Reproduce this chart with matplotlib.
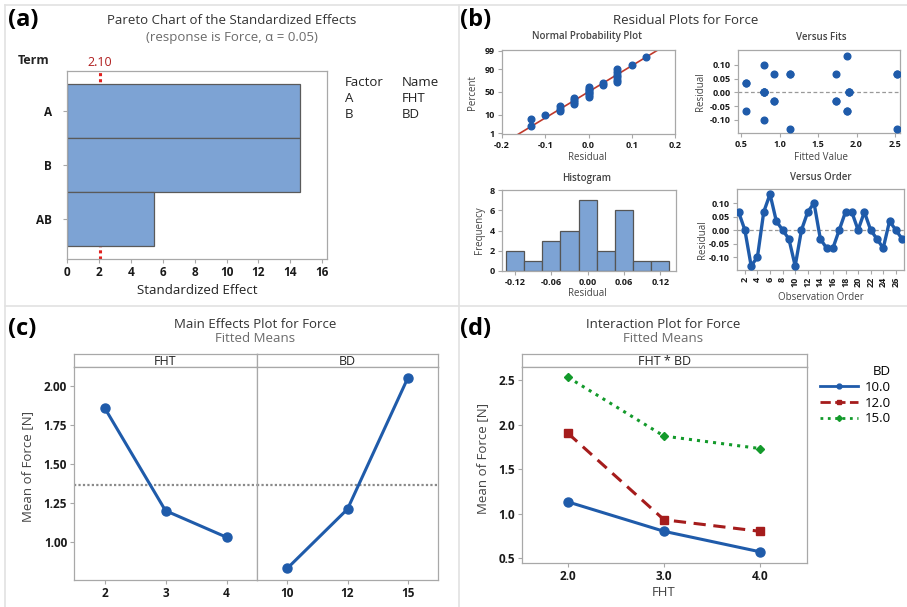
import matplotlib
matplotlib.use("Agg")
import matplotlib.pyplot as plt
from matplotlib.lines import Line2D
from statistics import NormalDist
import numpy as np

plt.rcParams['font.family'] = ['Open Sans', 'DejaVu Sans']

W, H = 907, 607

# (a) pareto data
terms = ["A", "B", "AB"]
std_effects = [14.6, 14.6, 5.45]
t_crit = 2.10
factor_codes = ["A", "B"]
factor_names = ["FHT", "BD"]

# (b) residuals in observation order, and their fitted values
residuals = [0.067, 0.0, -0.133, -0.10, 0.067, 0.133, 0.033, 0.0, -0.033, -0.133,
             0.0, 0.067, 0.10, -0.033, -0.067, -0.067, 0.0, 0.067, 0.067, 0.0,
             0.067, 0.0, -0.033, -0.067, 0.033, 0.0, -0.033]
fitted = [0.93, 0.80, 1.13, 0.80, 1.13, 1.87, 0.57, 0.80, 0.93, 2.53,
          0.80, 1.13, 0.80, 0.93, 0.57, 1.87, 0.80, 1.73, 2.53, 1.90,
          2.53, 1.90, 1.73, 1.87, 0.57, 1.90, 1.73]

# (c) main effects
fht_levels = ["2", "3", "4"]
fht_means = [1.86, 1.20, 1.03]
bd_levels = ["10", "12", "15"]
bd_means = [0.83, 1.21, 2.05]
grand_mean = 1.363

# (d) interaction
fht_vals = [2.0, 3.0, 4.0]
bd10 = [1.13, 0.80, 0.57]
bd12 = [1.90, 0.93, 0.80]
bd15 = [2.53, 1.87, 1.73]

blue = "#1F5BAA"
bar_blue = "#7DA3D4"
dark_red = "#A51C1C"
green = "#139A2B"
spine_c = "#A8A8A8"

fig = plt.figure(figsize=(W / 100, H / 100), dpi=100)


def ax_px(x0, y0, x1, y1):
    return fig.add_axes([x0 / W, 1 - y1 / H, (x1 - x0) / W, (y1 - y0) / H])


def txt(x, y, s, ha="center", va="center", **kw):
    fig.text(x / W, 1 - y / H, s, ha=ha, va=va, **kw)


def style(ax, size=7):
    for sp in ax.spines.values():
        sp.set_color(spine_c)
        sp.set_linewidth(0.9)
    ax.tick_params(length=3, width=0.8, color=spine_c, labelsize=size,
                   labelcolor="#1a1a1a", pad=2)
    for lab in ax.get_xticklabels() + ax.get_yticklabels():
        lab.set_fontweight("bold")


# panel separators
for (x0, y0, x1, y1) in [(5, 5, 907, 5), (5, 5, 5, 607), (459, 5, 459, 607), (5, 306, 907, 306)]:
    fig.add_artist(Line2D([x0 / W, x1 / W], [1 - y0 / H, 1 - y1 / H], color="#E2E2E2", lw=1.2))

# ---------- (a) pareto ----------
txt(8, 20, "(a)", ha="left", fontsize=17, fontweight="bold")
txt(232, 21, "Pareto Chart of the Standardized Effects", fontsize=9.5, color="#333333")
txt(232, 37, "(response is Force, α = 0.05)", fontsize=9.5, color="#6b6b6b")
txt(34, 60, "Term", fontsize=9, color="#222222", fontweight="bold")
ax = ax_px(67, 71, 327, 259)
ax.barh(range(len(terms)), std_effects, height=1.0, color=bar_blue,
        edgecolor="#5a5a5a", lw=0.9, zorder=2)
ax.axvline(t_crit, color="#E0201E", ls=(0, (1, 1)), lw=2.2, zorder=1)
ax.set_xlim(0, 16.3)
ax.set_ylim(2.74, -0.74)
ax.set_yticks(range(len(terms)))
ax.set_yticklabels(terms)
ax.set_xticks(range(0, 17, 2))
style(ax, 8.5)
ax.tick_params(axis="y", pad=8)
txt(100, 63, f"{t_crit:.2f}", fontsize=9, color="#B01E1E")
txt(197, 290, "Standardized Effect", fontsize=9.5, color="#222222")
txt(345, 83, "Factor", ha="left", fontsize=9.5, color="#222222")
txt(402, 83, "Name", ha="left", fontsize=9.5, color="#222222")
for i, (c, n) in enumerate(zip(factor_codes, factor_names)):
    txt(345, 99 + 15 * i, c, ha="left", fontsize=9.5, color="#222222")
    txt(402, 99 + 15 * i, n, ha="left", fontsize=9.5, color="#222222")

# ---------- (b) residual plots ----------
txt(460, 20, "(b)", ha="left", fontsize=17, fontweight="bold")
txt(686, 21, "Residual Plots for Force", fontsize=9.5, color="#333333")
res = np.array(residuals)
nd = NormalDist()
n = len(res)

# normal probability
ax = ax_px(502, 50, 675, 134)
xs = np.sort(res)
zs = [nd.inv_cdf((i + 1 - 0.3) / (n + 0.4)) for i in range(n)]
sd = res.std(ddof=1)
lx = np.array([-0.3, 0.3])
ax.plot(lx, (lx - res.mean()) / sd, color="#C0392B", lw=1.2, zorder=2)
ax.plot(xs, zs, "o", color=blue, ms=4.8, zorder=3)
ax.set_xlim(-0.2, 0.2)
ax.set_ylim(-2.38, 2.36)
pct = [1, 10, 50, 90, 99]
ax.set_yticks([nd.inv_cdf(p / 100) for p in pct])
ax.set_yticklabels([str(p) for p in pct])
ax.set_xticks([-0.2, -0.1, 0.0, 0.1, 0.2])
ax.set_xticklabels(["-0.2", "-0.1", "0.0", "0.1", "0.2"])
style(ax, 6.5)
txt(587, 37, "Normal Probability Plot", fontsize=7, color="#444444", fontweight="semibold")
txt(587, 157, "Residual", fontsize=7, color="#444444")
txt(473, 92, "Percent", fontsize=7, color="#444444", rotation=90)

# versus fits
ax = ax_px(738, 50, 900, 133)
ax.axhline(0, color="#999999", ls=(0, (3, 2)), lw=0.9)
ax.plot(fitted, res, "o", color=blue, ms=4.8, zorder=3)
ax.set_xlim(0.46, 2.565)
ax.set_ylim(-0.148, 0.154)
ax.set_yticks([-0.10, -0.05, 0.0, 0.05, 0.10])
ax.set_yticklabels(["-0.10", "-0.05", "0.00", "0.05", "0.10"])
ax.set_xticks([0.5, 1.0, 1.5, 2.0, 2.5])
style(ax, 6.5)
txt(821, 37, "Versus Fits", fontsize=7, color="#444444", fontweight="semibold")
txt(821, 157, "Fitted Value", fontsize=7, color="#444444")
txt(700, 92, "Residual", fontsize=7, color="#444444", rotation=90)

# histogram
ax = ax_px(502, 190, 676, 271)
ax.hist(res, bins=np.arange(-0.135, 0.1351, 0.03), color=bar_blue,
        edgecolor="#555555", lw=0.9)
ax.set_xlim(-0.1415, 0.146)
ax.set_ylim(0, 8)
ax.set_yticks([0, 2, 4, 6, 8])
ax.set_xticks([-0.12, -0.06, 0.0, 0.06, 0.12])
ax.set_xticklabels(["-0.12", "-0.06", "0.00", "0.06", "0.12"])
style(ax, 6.5)
txt(587, 178, "Histogram", fontsize=7, color="#444444", fontweight="semibold")
txt(587, 294, "Residual", fontsize=7, color="#444444")
txt(479, 230, "Frequency", fontsize=7, color="#444444", rotation=90)

# versus order
ax = ax_px(737, 189, 904, 270)
order = np.arange(1, n + 1)
ax.axhline(0, color="#999999", ls=(0, (3, 2)), lw=0.9)
ax.plot(order, res, "-o", color=blue, ms=5, lw=2.4, zorder=3)
ax.set_xlim(0.75, 27.3)
ax.set_ylim(-0.148, 0.152)
ax.set_yticks([-0.10, -0.05, 0.0, 0.05, 0.10])
ax.set_yticklabels(["-0.10", "-0.05", "0.00", "0.05", "0.10"])
ax.set_xticks(range(2, 27, 2))
style(ax, 6.5)
ax.tick_params(axis="x", labelrotation=90)
txt(821, 178, "Versus Order", fontsize=7, color="#444444", fontweight="semibold")
txt(821, 298, "Observation Order", fontsize=7, color="#444444")
txt(702, 240, "Residual", fontsize=7, color="#444444", rotation=90)

# ---------- (c) main effects ----------
txt(8, 329, "(c)", ha="left", fontsize=17, fontweight="bold")
txt(255, 324, "Main Effects Plot for Force", fontsize=9.5, color="#333333")
txt(255, 339, "Fitted Means", fontsize=9.5, color="#6b6b6b")
panels = [(74, 257, "FHT", fht_levels, fht_means), (257, 438, "BD", bd_levels, bd_means)]
for k, (x0, x1, name, levels, means) in enumerate(panels):
    s = ax_px(x0, 354, x1, 367)
    s.set_xticks([])
    s.set_yticks([])
    for sp in s.spines.values():
        sp.set_color(spine_c)
        sp.set_linewidth(0.9)
    s.text(0.5, 0.45, name, transform=s.transAxes, ha="center", va="center",
           fontsize=9, color="#222222")
    ax = ax_px(x0, 367, x1, 580)
    ax.axhline(grand_mean, color="#8a8a8a", ls=(0, (1, 1)), lw=1.6, zorder=1)
    ax.plot(range(len(levels)), means, "-o", color=blue, lw=2.2, ms=6.5, zorder=3)
    ax.set_xlim(-0.5, 2.5)
    ax.set_ylim(0.756, 2.12)
    ax.set_xticks(range(len(levels)))
    ax.set_xticklabels(levels)
    if k == 0:
        ax.set_yticks([1.00, 1.25, 1.50, 1.75, 2.00])
        ax.set_yticklabels(["1.00", "1.25", "1.50", "1.75", "2.00"])
    else:
        ax.set_yticks([])
    style(ax, 8.5)
txt(28, 467, "Mean of Force [N]", fontsize=9.5, color="#444444", rotation=90)

# ---------- (d) interaction ----------
txt(460, 329, "(d)", ha="left", fontsize=17, fontweight="bold")
txt(663, 324, "Interaction Plot for Force", fontsize=9.5, color="#333333")
txt(663, 339, "Fitted Means", fontsize=9.5, color="#6b6b6b")
s = ax_px(522, 354, 807, 367)
s.set_xticks([])
s.set_yticks([])
for sp in s.spines.values():
    sp.set_color(spine_c)
    sp.set_linewidth(0.9)
s.text(0.5, 0.45, "FHT * BD", transform=s.transAxes, ha="center", va="center",
       fontsize=9, color="#222222")
ax = ax_px(522, 367, 807, 563)
ax.plot(fht_vals, bd10, "-o", color=blue, lw=2.2, ms=6.5)
ax.plot(fht_vals, bd12, "--s", color=dark_red, lw=2.2, ms=6, dashes=(4, 2.5))
ax.plot(fht_vals, bd15, ":D", color=green, lw=2.2, ms=4.5)
ax.set_xlim(1.52, 4.49)
ax.set_ylim(0.444, 2.646)
ax.set_xticks(fht_vals)
ax.set_xticklabels(["2.0", "3.0", "4.0"])
ax.set_yticks([0.5, 1.0, 1.5, 2.0, 2.5])
style(ax, 8.5)
txt(483, 458, "Mean of Force [N]", fontsize=9.5, color="#444444", rotation=90)
txt(664, 592, "FHT", fontsize=9.5, color="#444444")
lh = [Line2D([], [], color=blue, lw=2, marker="o", ms=3.5),
      Line2D([], [], color=dark_red, lw=2, ls="--", marker="s", ms=3.5),
      Line2D([], [], color=green, lw=2, ls=":", marker="D", ms=3)]
leg = fig.legend(lh, ["10.0", "12.0", "15.0"], title="BD", loc="upper right",
                 bbox_to_anchor=(900 / W, 1 - 356 / H), frameon=False, fontsize=9.5,
                 title_fontsize=9.5, alignment="right", handlelength=2.9,
                 labelspacing=0.2, handletextpad=0.5, borderpad=0.2)

fig.savefig("out.png", dpi=100)
